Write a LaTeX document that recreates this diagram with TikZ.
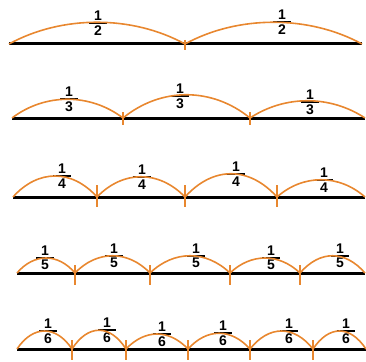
\documentclass[tikz,border=0pt]{standalone}
\usepackage{fontspec}
\setmainfont{Liberation Sans}
\definecolor{FOrange}{HTML}{E8872F}
\newcommand\fracnum[1]{\vbox{\hbox to 18pt{\hss 1\hss}\kern1.3pt\hrule height 2.2pt\kern1.3pt\hbox to 18pt{\hss #1\hss}}}

\begin{document}
\begin{tikzpicture}[x=1pt,y=-1pt,
  FLine/.style={line width=3pt,black},
  FArc/.style={FOrange,line width=1.6pt},
  FTick/.style={FOrange,line width=1.3pt},
  FLabel/.style={inner sep=0pt,font=\fontsize{14}{14}\selectfont\bfseries}]
\path[use as bounding box] (0,0) rectangle (366,361);
% halves
\coordinate (r1-0) at (9,44);
\coordinate (r1-1) at (185,44);
\coordinate (r1-2) at (362,44);
\node[FLabel] (h1) at (98,23) {\fracnum{2}};
\node[FLabel] (h2) at (282,22) {\fracnum{2}};
\draw[FLine] (r1-0) -- (r1-2);
\draw[FArc] (r1-0) .. controls +(53,-29) and +(-53,-29) .. (r1-1);
\draw[FArc] (r1-1) .. controls +(53,-29) and +(-53,-29) .. (r1-2);
\draw[FTick] (r1-1) ++(0,-4) -- ++(0,10);
% thirds
\coordinate (r2-0) at (12,118);
\coordinate (r2-1) at (123,118);
\coordinate (r2-2) at (250,118);
\coordinate (r2-3) at (365,118);
\node[FLabel] (t1) at (69,99) {\fracnum{3}};
\node[FLabel] (t2) at (180,96) {\fracnum{3}};
\node[FLabel] (t3) at (310,102) {\fracnum{3}};
\draw[FLine] (r2-0) -- (r2-3);
\draw[FArc] (r2-0) .. controls +(33,-25) and +(-33,-25) .. (r2-1);
\draw[FArc] (r2-1) .. controls +(38,-31) and +(-38,-31) .. (r2-2);
\draw[FArc] (r2-2) .. controls +(35,-23) and +(-35,-23) .. (r2-3);
\draw[FTick] (r2-1) ++(0,-6) -- ++(0,13);
\draw[FTick] (r2-2) ++(0,-6) -- ++(0,13);
% quarters
\coordinate (r3-0) at (13,197);
\coordinate (r3-1) at (97,197);
\coordinate (r3-2) at (185,197);
\coordinate (r3-3) at (277,197);
\coordinate (r3-4) at (365,197);
\node[FLabel] (q1) at (62,176) {\fracnum{4}};
\node[FLabel] (q2) at (142,177) {\fracnum{4}};
\node[FLabel] (q3) at (236,174) {\fracnum{4}};
\node[FLabel] (q4) at (324,180) {\fracnum{4}};
\draw[FLine] (r3-0) -- (r3-4);
\draw[FArc] (r3-0) .. controls +(25,-28) and +(-25,-28) .. (r3-1);
\draw[FArc] (r3-1) .. controls +(26,-27) and +(-26,-27) .. (r3-2);
\draw[FArc] (r3-2) .. controls +(28,-31) and +(-28,-31) .. (r3-3);
\draw[FArc] (r3-3) .. controls +(26,-23) and +(-26,-23) .. (r3-4);
\draw[FTick] (r3-1) ++(0,-12) -- ++(0,22);
\draw[FTick] (r3-2) ++(0,-12) -- ++(0,22);
\draw[FTick] (r3-3) ++(0,-12) -- ++(0,22);
% fifths
\coordinate (r4-0) at (17,273);
\coordinate (r4-1) at (75,273);
\coordinate (r4-2) at (150,273);
\coordinate (r4-3) at (230,273);
\coordinate (r4-4) at (300,273);
\coordinate (r4-5) at (365,273);
\node[FLabel] (p1) at (45,258) {\fracnum{5}};
\node[FLabel] (p2) at (114,256) {\fracnum{5}};
\node[FLabel] (p3) at (196,256) {\fracnum{5}};
\node[FLabel] (p4) at (271,258) {\fracnum{5}};
\node[FLabel] (p5) at (340,256) {\fracnum{5}};
\draw[FLine] (r4-0) -- (r4-5);
\draw[FArc] (r4-0) .. controls +(17,-20) and +(-17,-20) .. (r4-1);
\draw[FArc] (r4-1) .. controls +(22,-23) and +(-22,-23) .. (r4-2);
\draw[FArc] (r4-2) .. controls +(24,-23) and +(-24,-23) .. (r4-3);
\draw[FArc] (r4-3) .. controls +(21,-20) and +(-21,-20) .. (r4-4);
\draw[FArc] (r4-4) .. controls +(20,-23) and +(-20,-23) .. (r4-5);
\draw[FTick] (r4-1) ++(0,-8) -- ++(0,20);
\draw[FTick] (r4-2) ++(0,-8) -- ++(0,20);
\draw[FTick] (r4-3) ++(0,-8) -- ++(0,20);
\draw[FTick] (r4-4) ++(0,-8) -- ++(0,20);
% sixths
\coordinate (r5-0) at (17,349);
\coordinate (r5-1) at (72,349);
\coordinate (r5-2) at (126,349);
\coordinate (r5-3) at (188,349);
\coordinate (r5-4) at (250,349);
\coordinate (r5-5) at (313,349);
\coordinate (r5-6) at (366,349);
\node[FLabel] (s1) at (48,331) {\fracnum{6}};
\node[FLabel] (s2) at (107,330) {\fracnum{6}};
\node[FLabel] (s3) at (162,334) {\fracnum{6}};
\node[FLabel] (s4) at (223,333) {\fracnum{6}};
\node[FLabel] (s5) at (289,331) {\fracnum{6}};
\node[FLabel] (s6) at (346,331) {\fracnum{6}};
\draw[FLine] (r5-0) -- (r5-6);
\draw[FArc] (r5-0) .. controls +(16,-24) and +(-16,-24) .. (r5-1);
\draw[FArc] (r5-1) .. controls +(16,-25) and +(-16,-25) .. (r5-2);
\draw[FArc] (r5-2) .. controls +(19,-20) and +(-19,-20) .. (r5-3);
\draw[FArc] (r5-3) .. controls +(19,-21) and +(-19,-21) .. (r5-4);
\draw[FArc] (r5-4) .. controls +(19,-24) and +(-19,-24) .. (r5-5);
\draw[FArc] (r5-5) .. controls +(16,-24) and +(-16,-24) .. (r5-6);
\draw[FTick] (r5-1) ++(0,-9) -- ++(0,20);
\draw[FTick] (r5-2) ++(0,-9) -- ++(0,20);
\draw[FTick] (r5-3) ++(0,-9) -- ++(0,20);
\draw[FTick] (r5-4) ++(0,-9) -- ++(0,20);
\draw[FTick] (r5-5) ++(0,-9) -- ++(0,20);
\end{tikzpicture}
\end{document}
